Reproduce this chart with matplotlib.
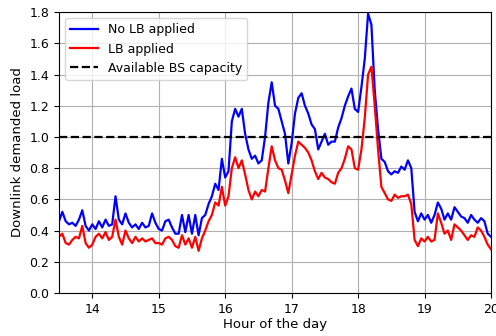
import numpy as np
import matplotlib
matplotlib.use("Agg")
import matplotlib.pyplot as plt

# load samples read every 0.05 h from 13.5 to 20.0
no_lb = [
    0.46, 0.52, 0.46, 0.44, 0.45, 0.43, 0.47, 0.53, 0.43, 0.40,
    0.44, 0.41, 0.46, 0.42, 0.47, 0.43, 0.44, 0.62, 0.47, 0.44,
    0.51, 0.45, 0.42, 0.44, 0.41, 0.45, 0.42, 0.43, 0.51, 0.45,
    0.41, 0.40, 0.46, 0.47, 0.42, 0.38, 0.38, 0.50, 0.39, 0.50,
    0.38, 0.50, 0.37, 0.48, 0.50, 0.57, 0.62, 0.70, 0.66, 0.86,
    0.74, 0.78, 1.10, 1.18, 1.13, 1.18, 1.02, 0.92, 0.86, 0.88,
    0.83, 0.85, 1.00, 1.22, 1.35, 1.20, 1.18, 1.10, 1.02, 0.83,
    0.96, 1.15, 1.25, 1.28, 1.20, 1.15, 1.08, 1.05, 0.92, 0.97,
    1.02, 0.95, 0.97, 0.97, 1.06, 1.12, 1.20, 1.26, 1.31, 1.18,
    1.16, 1.32, 1.50, 1.79, 1.72, 1.30, 1.05, 0.86, 0.84, 0.78,
    0.76, 0.78, 0.77, 0.81, 0.79, 0.85, 0.80, 0.52, 0.46, 0.51,
    0.47, 0.50, 0.45, 0.50, 0.58, 0.54, 0.47, 0.51, 0.47, 0.55,
    0.52, 0.49, 0.48, 0.45, 0.50, 0.47, 0.45, 0.48, 0.46, 0.38,
    0.36,
]
lb = [
    0.36, 0.38, 0.32, 0.31, 0.34, 0.36, 0.35, 0.43, 0.32, 0.29,
    0.31, 0.36, 0.38, 0.35, 0.39, 0.34, 0.36, 0.47, 0.36, 0.31,
    0.40, 0.35, 0.32, 0.36, 0.33, 0.35, 0.33, 0.34, 0.35, 0.32,
    0.32, 0.31, 0.35, 0.36, 0.34, 0.30, 0.29, 0.37, 0.31, 0.35,
    0.29, 0.36, 0.27, 0.35, 0.40, 0.46, 0.50, 0.58, 0.56, 0.68,
    0.56, 0.62, 0.80, 0.87, 0.80, 0.85, 0.76, 0.66, 0.60, 0.65,
    0.62, 0.66, 0.65, 0.80, 0.94, 0.85, 0.80, 0.79, 0.72, 0.64,
    0.76, 0.88, 0.97, 0.95, 0.93, 0.90, 0.85, 0.78, 0.73, 0.77,
    0.74, 0.73, 0.71, 0.70, 0.77, 0.80, 0.86, 0.94, 0.92, 0.80,
    0.79, 0.92, 1.12, 1.40, 1.45, 1.20, 0.92, 0.68, 0.64, 0.60,
    0.59, 0.63, 0.61, 0.62, 0.62, 0.63, 0.57, 0.34, 0.30, 0.35,
    0.33, 0.36, 0.33, 0.34, 0.51, 0.45, 0.38, 0.40, 0.34, 0.44,
    0.42, 0.40, 0.37, 0.34, 0.37, 0.36, 0.42, 0.40, 0.36, 0.31,
    0.28,
]
capacity = 1.0
t_start, t_end = 13.5, 20.0


def main() -> int:
    hours = np.linspace(t_start, t_end, len(no_lb))

    fig = plt.figure(figsize=(4.96, 3.36), dpi=100)
    ax = fig.add_axes([0.119, 0.128, 0.871, 0.836])
    ax.plot(hours, no_lb, color="blue", lw=1.6, label="No LB applied")
    ax.plot(hours, lb, color="red", lw=1.6, label="LB applied")
    ax.axhline(capacity, color="black", ls="--", lw=1.6, label="Available BS capacity")

    ax.set_xlim(t_start, t_end)
    ax.set_ylim(0.0, 1.8)
    ax.set_yticks(np.arange(0.0, 1.81, 0.2))
    ax.set_xticks(range(14, 21))
    ax.tick_params(labelsize=9)
    ax.grid(True, color="#b0b0b0", lw=0.8)
    ax.set_xlabel("Hour of the day", fontsize=9.5, labelpad=2)
    ax.set_ylabel("Downlink demanded load", fontsize=9.5)
    ax.legend(loc="upper left", fontsize=9, handlelength=2.2)

    fig.savefig("out.png", dpi=100)
    plt.close(fig)
    return 0


if __name__ == "__main__":
    raise SystemExit(main())
